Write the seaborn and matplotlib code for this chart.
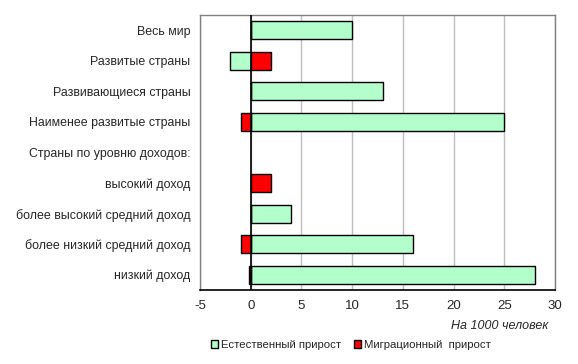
import numpy as np
import pandas as pd
import matplotlib
matplotlib.use("Agg")
import matplotlib.pyplot as plt
import seaborn as sns
from matplotlib.patches import Patch

categories = ["Весь мир", "Развитые страны", "Развивающиеся страны",
              "Наименее развитые страны", "Страны по уровню доходов:",
              "высокий доход", "более высокий средний доход",
              "более низкий средний доход", "низкий доход"]
natural = [10, -2, 13, 25, np.nan, 0, 4, 16, 28]
migration = [0, 2, 0, -1, np.nan, 2, 0, -1, -0.15]
series_names = ["Естественный прирост", "Миграционный  прирост"]
x_ticks = [-5, 0, 5, 10, 15, 20, 25, 30]

df = pd.DataFrame({
    "cat": categories * 2,
    "val": natural + migration,
    "series": [series_names[0]] * len(categories) + [series_names[1]] * len(categories),
})

sns.set_theme(style="white")
plt.rcParams["font.family"] = ["Liberation Sans", "DejaVu Sans"]

fig = plt.figure(figsize=(5.78, 3.64), dpi=100)
ax = fig.add_axes([200 / 578, 1 - 290 / 364, 355 / 578, 275 / 364])

colors = {series_names[0]: "#B3FFCC", series_names[1]: "#FF0000"}
sns.barplot(data=df, y="cat", x="val", hue="series", order=categories,
            hue_order=series_names, palette=colors, dodge=False, saturation=1,
            orient="h", width=0.59, edgecolor="black", linewidth=1.0,
            legend=False, ax=ax, errorbar=None)

ax.set_xlim(-5, 30)
ax.set_xticks(x_ticks)
ax.set_xticklabels([str(t) for t in x_ticks], fontsize=9.5)
ax.xaxis.grid(True, color="#BFBFBF", linewidth=1)
ax.set_axisbelow(True)
ax.axvline(0, color="black", linewidth=1.2, zorder=3)
ax.set_xlabel("")
ax.set_ylabel("")
ax.tick_params(axis="y", length=0, pad=7, labelsize=8.9)
ax.tick_params(axis="x", length=0, pad=7)
for side in ["top", "right", "left"]:
    ax.spines[side].set_color("#808080")
    ax.spines[side].set_linewidth(1)
ax.spines["bottom"].set_color("black")
ax.spines["bottom"].set_linewidth(1.2)

fig.text(548 / 578, 1 - 326 / 364, "На 1000 человек", style="italic",
         ha="right", va="center", fontsize=9)

handles = [Patch(facecolor=colors[s], edgecolor="black", linewidth=1) for s in series_names]
fig.legend(handles, series_names, loc="center", bbox_to_anchor=(351 / 578, 1 - 345 / 364),
           ncol=2, frameon=False, fontsize=8.2, handlelength=0.6, handleheight=0.7,
           handletextpad=0.25, columnspacing=1.2, borderpad=0)

fig.savefig("out.png", dpi=100)
